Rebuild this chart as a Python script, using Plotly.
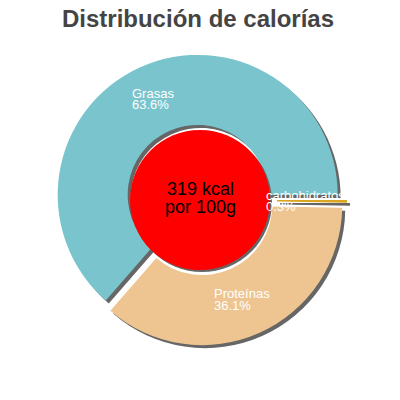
import plotly.graph_objects as go

labels = ["Grasas", "Proteínas", "carbohidratos"]
values = [63.6, 36.1, 0.3]
pct_text = ["63.6%", "36.1%", "0.3%"]
colors = ["#7ac5cd", "#eec591", "#daa520"]
pulls = [0.04, 0.04, 0.05]
center_lines = ["319 kcal", "por 100g"]
title_text = "Distribución de calorías"

W = H = 400
OFF = 8  # page body margin
R = 140
box = 2 * R * (1 + max(pulls))
cx, cy = 200, 200
# first slice (counterclockwise) must start at 3 o'clock
rot = 90 - 360 * values[0] / sum(values)

def px(x):
    return (x - OFF) / W

def py(y):
    return 1 - (y - OFF) / H

def dom(cx_px, cy_px):
    return dict(x=[px(cx_px - box / 2), px(cx_px + box / 2)],
                y=[py(cy_px + box / 2), py(cy_px - box / 2)])

fig = go.Figure()
# shadow
fig.add_trace(go.Pie(labels=labels, values=values, sort=False, direction="counterclockwise",
                     rotation=rot, pull=pulls, hole=0.5, domain=dom(cx + 3, cy + 3),
                     marker=dict(colors=["#666666"] * 3, line=dict(width=0)),
                     textinfo="none", hoverinfo="skip", showlegend=False))
fig.add_trace(go.Pie(labels=labels, values=values, sort=False, direction="counterclockwise",
                     rotation=rot, pull=pulls, hole=0.5, domain=dom(cx, cy),
                     marker=dict(colors=colors, line=dict(width=0)),
                     textinfo="none", showlegend=False))

def circ(x, y, r, color):
    return dict(type="circle", xref="paper", yref="paper", layer="above",
                x0=px(x - r), x1=px(x + r), y0=py(y + r), y1=py(y - r),
                fillcolor=color, line=dict(width=0))

shapes = [circ(cx + 2, cy + 2, 70, "#666666"), circ(cx, cy, 70, "#ff0000")]

ann = []
def txt(s, x, y, size, color="white", xanchor="left", family="Liberation Sans, Arial, sans-serif"):
    ann.append(dict(text=s, x=px(x), y=py(y), xref="paper", yref="paper",
                    xanchor=xanchor, yanchor="middle", showarrow=False,
                    font=dict(size=size, color=color, family=family)))

txt(center_lines[0], 200, 189, 18, "black", "center")
txt(center_lines[1], 200, 207, 18, "black", "center")
lab_pos = [(130, 93, 104), (212, 293, 305), (264, 195, 206)]
for i, (x, y1, y2) in enumerate(lab_pos):
    txt(labels[i], x, y1, 13)
    txt(pct_text[i], x, y2, 13)

fig.update_layout(
    width=W, height=H, margin=dict(l=0, r=0, t=0, b=0),
    paper_bgcolor="white", plot_bgcolor="white",
    title=dict(text="<b>" + title_text + "</b>", x=px(198), xanchor="center", y=py(19),
               yanchor="middle", font=dict(size=24, color="#444444",
                                           family="Liberation Sans, Arial, sans-serif")),
    shapes=shapes, annotations=ann,
)
fig.write_html("out.html")
